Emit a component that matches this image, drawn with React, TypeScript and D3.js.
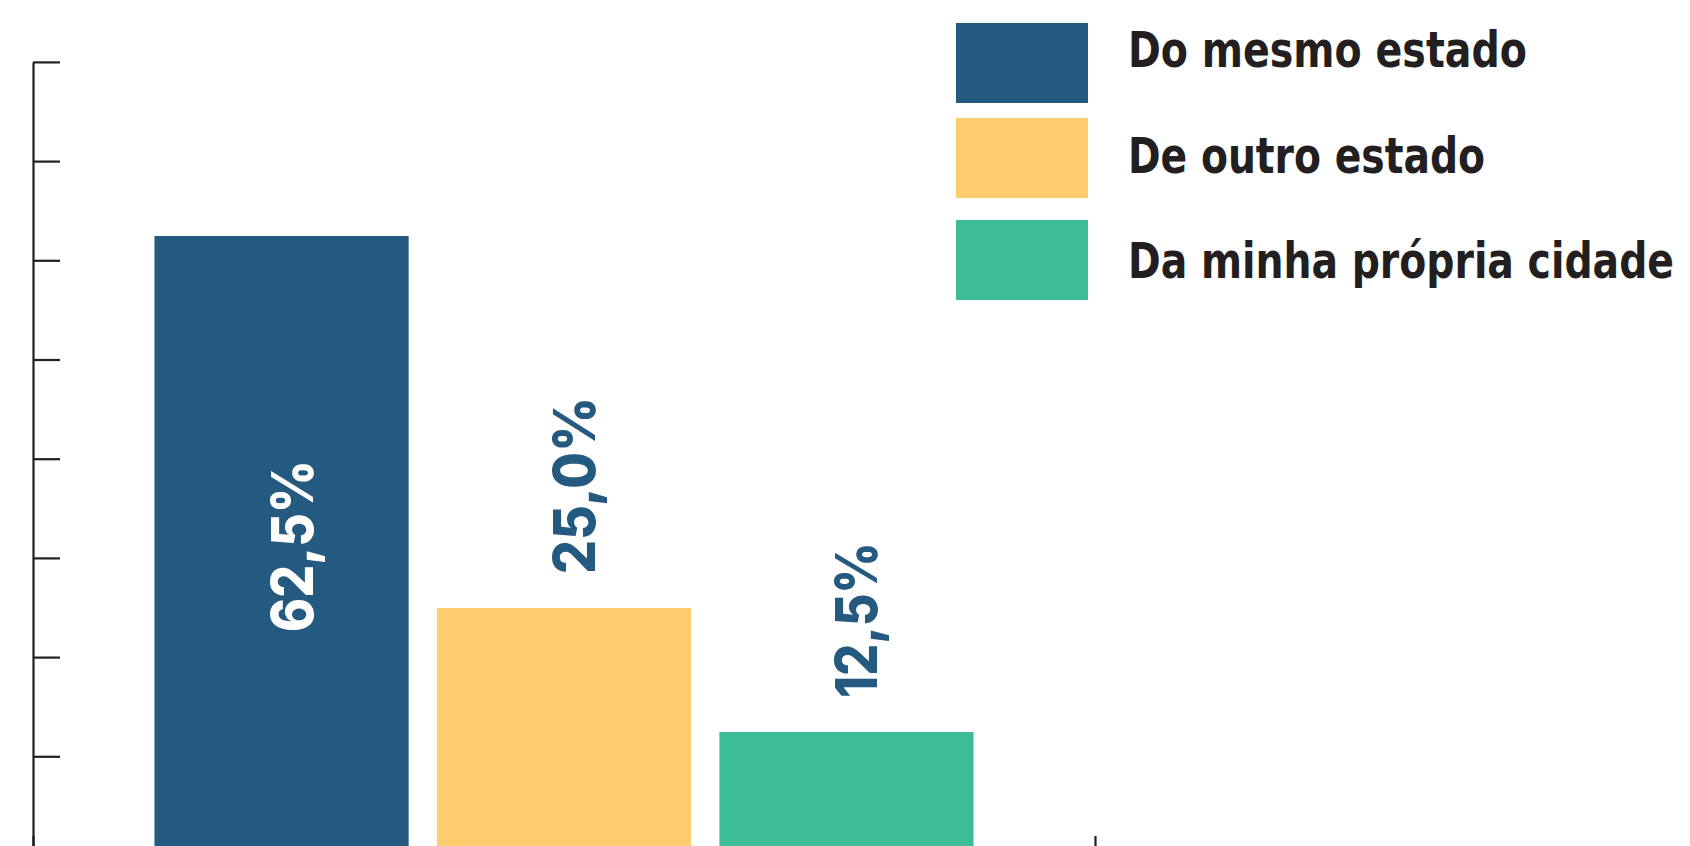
import React from "react";
import * as d3 from "d3";

const categories = ["Do mesmo estado", "De outro estado", "Da minha própria cidade"];
const values = [62.5, 25.0, 12.5];
const valueLabels = ["62,5%", "25,0%", "12,5%"];
const colors = ["#245A7F", "#FDCD6D", "#3DBD97"];
const yTicks = [0, 10, 20, 30, 40, 50, 60, 70, 80];

const W = 1690;
const H = 846;

export default function App() {
  const x = d3.scaleBand<string>().domain(categories).range([33, 1095]).paddingInner(0.1).paddingOuter(0.43);
  const y = d3.scaleLinear().domain([0, 80]).range([856, 62.4]);
  const axisColor = "#231F20";
  const labelFont = "Inter, 'Noto Sans', sans-serif";
  const legendFont = "'Liberation Sans Narrow', 'DejaVu Sans Condensed', 'Arial Narrow', sans-serif";
  const legendWidths = [399, 357, 546];
  const labelLengths = [172, 177, 156];
  const swatchTops = [23, 118, 220];

  return (
    <div style={{ position: "fixed", left: 0, top: 0 }}>
      <svg width={W} height={H} style={{ display: "block", background: "#fff" }}>
        {/* bars */}
        {categories.map((c, i) => (
          <rect key={c} x={x(c)!} y={y(values[i])} width={x.bandwidth()} height={y(0) - y(values[i])} fill={colors[i]} />
        ))}
        {/* value labels */}
        {categories.map((c, i) => {
          const cx = x(c)! + x.bandwidth() / 2 + 31;
          const inside = i === 0;
          const ty = inside ? (y(values[i]) + y(0)) / 2 : y(values[i]) - 34;
          return (
            <text
              key={"l" + c}
              transform={`translate(${cx},${ty}) rotate(-90)`}
              textAnchor={inside ? "middle" : "start"}
              fontFamily={labelFont}
              fontWeight={800}
              fontSize={58}
              fill={inside ? "#ffffff" : "#245A7F"}
              textLength={labelLengths[i]}
              lengthAdjust="spacingAndGlyphs"
            >
              {valueLabels[i]}
            </text>
          );
        })}
        {/* y axis */}
        <line x1={33.5} x2={33.5} y1={y(80)} y2={y(0)} stroke={axisColor} strokeWidth={2.2} />
        {yTicks.map((t) => (
          <line key={t} x1={33} x2={60} y1={y(t)} y2={y(t)} stroke={axisColor} strokeWidth={2.2} />
        ))}
        {/* x axis (baseline below view) */}
        <line x1={33} x2={1095} y1={y(0)} y2={y(0)} stroke={axisColor} strokeWidth={2.2} />
        {[33, 1095].map((px) => (
          <line key={px} x1={px + 0.5} x2={px + 0.5} y1={y(0) - 20} y2={y(0)} stroke={axisColor} strokeWidth={2.2} />
        ))}
        {/* legend */}
        {categories.map((c, i) => (
          <g key={"lg" + c}>
            <rect x={956} y={swatchTops[i]} width={132} height={80} fill={colors[i]} />
            <text
              x={1128}
              y={67 + i * 105.5}
              fontFamily={legendFont}
              fontWeight={700}
              fontSize={50}
              fill={axisColor}
              textLength={legendWidths[i]}
              lengthAdjust="spacingAndGlyphs"
            >
              {c}
            </text>
          </g>
        ))}
      </svg>
    </div>
  );
}
